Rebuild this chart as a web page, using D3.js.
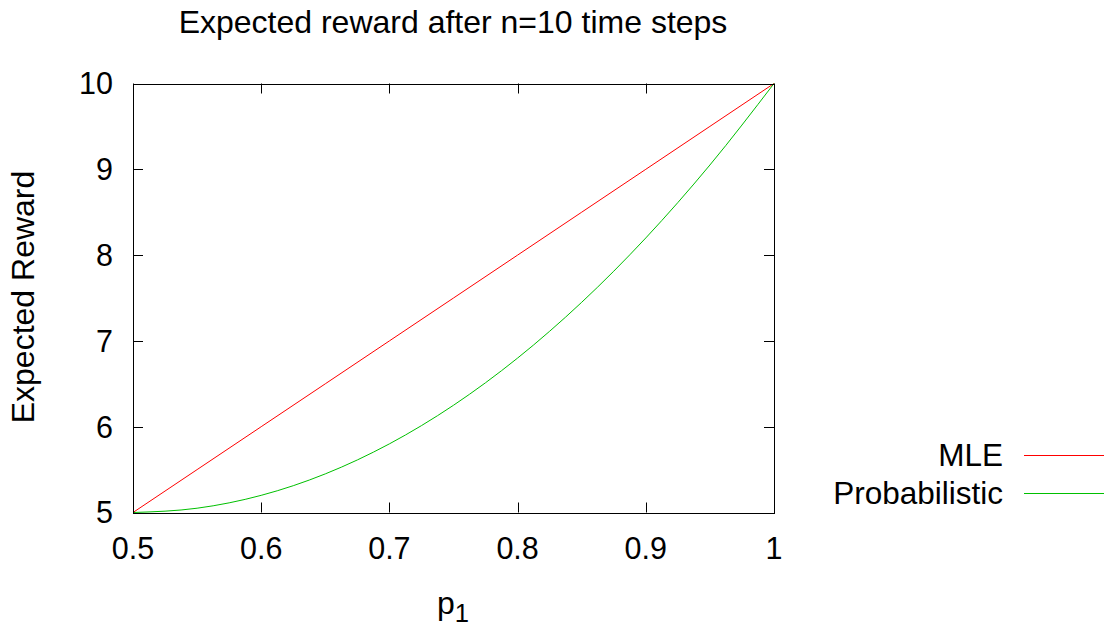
<!DOCTYPE html>
<html>
<head>
<meta charset="utf-8">
<script src="https://cdn.jsdelivr.net/npm/d3@7"></script>
<style>
html,body{margin:0;padding:0;background:#fff;}
text{font-family:"Liberation Sans",Arial,sans-serif;fill:#000;}
</style>
</head>
<body>
<script>
// Data
const pValues = [0.5, 0.55, 0.6, 0.65, 0.7, 0.75, 0.8, 0.85, 0.9, 0.95, 1.0];
const mleReward = [5.0, 5.5, 6.0, 6.5, 7.0, 7.5, 8.0, 8.5, 9.0, 9.5, 10.0];
const probReward = [5.0, 5.05, 5.2, 5.45, 5.8, 6.25, 6.8, 7.45, 8.2, 9.05, 10.0];
const xTicks = [0.5, 0.6, 0.7, 0.8, 0.9, 1];
const yTicks = [5, 6, 7, 8, 9, 10];
const seriesNames = ["MLE", "Probabilistic"];
const seriesColors = ["#ff0000", "#00c000"];

const W = 1107, H = 628;
const m = {left: 133, right: W - 774, top: 83.5, bottom: H - 512.5};
const fs = 30.5;

const svg = d3.select("body").append("svg").attr("width", W).attr("height", H);

const x = d3.scaleLinear().domain([0.5, 1]).range([m.left, W - m.right]);
const y = d3.scaleLinear().domain([5, 10]).range([H - m.bottom, m.top]);

const x0 = x.range()[0], x1 = x.range()[1], y0 = y.range()[0], y1 = y.range()[1];
const tl = 10;

// ticks (mirrored, inward)
const g = svg.append("g");
xTicks.forEach(t => {
  const px = Math.round(x(t)) + 0.5;
  g.append("line").attr("x1", px).attr("x2", px).attr("y1", y0).attr("y2", y0 - tl).attr("stroke", "#000");
  g.append("line").attr("x1", px).attr("x2", px).attr("y1", y1).attr("y2", y1 + tl).attr("stroke", "#000");
  g.append("text").attr("x", x(t)).attr("y", y0 + 46).attr("text-anchor", "middle")
    .attr("font-size", fs).text(d3.format("~g")(t));
});
yTicks.forEach(t => {
  const py = Math.round(y(t)) + 0.5;
  g.append("line").attr("x1", x0).attr("x2", x0 + tl).attr("y1", py).attr("y2", py).attr("stroke", "#000");
  g.append("line").attr("x1", x1).attr("x2", x1 - tl).attr("y1", py).attr("y2", py).attr("stroke", "#000");
  g.append("text").attr("x", x0 - 20).attr("y", y(t)).attr("dy", "0.36em").attr("text-anchor", "end")
    .attr("font-size", fs).text(t);
});

// lines
const line = d3.line().x((d, i) => x(pValues[i])).y(d => y(d)).curve(d3.curveMonotoneX);
[mleReward, probReward].forEach((s, k) => {
  svg.append("path").attr("d", line(s)).attr("fill", "none").attr("stroke", seriesColors[k]).attr("stroke-width", 1);
});

// frame
svg.append("rect").attr("x", Math.round(x0) + 0.5).attr("y", Math.round(y1) + 0.5)
  .attr("width", Math.round(x1) - Math.round(x0)).attr("height", Math.round(y0) - Math.round(y1))
  .attr("fill", "none").attr("stroke", "#000").attr("stroke-width", 1);

// title
svg.append("text").attr("x", 453).attr("y", 33).attr("text-anchor", "middle").attr("font-size", 32)
  .text("Expected reward after n=10 time steps");

// axis labels
const xl = svg.append("text").attr("x", 453).attr("y", 614).attr("text-anchor", "middle").attr("font-size", 32);
xl.append("tspan").text("p");
xl.append("tspan").attr("font-size", 32 * 0.8).attr("dy", 8).text("1");

svg.append("text").attr("transform", "translate(34,297) rotate(-90)").attr("text-anchor", "middle")
  .attr("font-size", 32).text("Expected Reward");

// legend
seriesNames.forEach((n, k) => {
  const ly = 455 + k * 38;
  svg.append("text").attr("x", 1003).attr("y", ly).attr("dy", "0.36em").attr("text-anchor", "end")
    .attr("font-size", 31.5).text(n);
  svg.append("line").attr("x1", 1024).attr("x2", 1104).attr("y1", ly + 0.5).attr("y2", ly + 0.5)
    .attr("stroke", seriesColors[k]).attr("stroke-width", 1);
});
</script>
</body>
</html>
